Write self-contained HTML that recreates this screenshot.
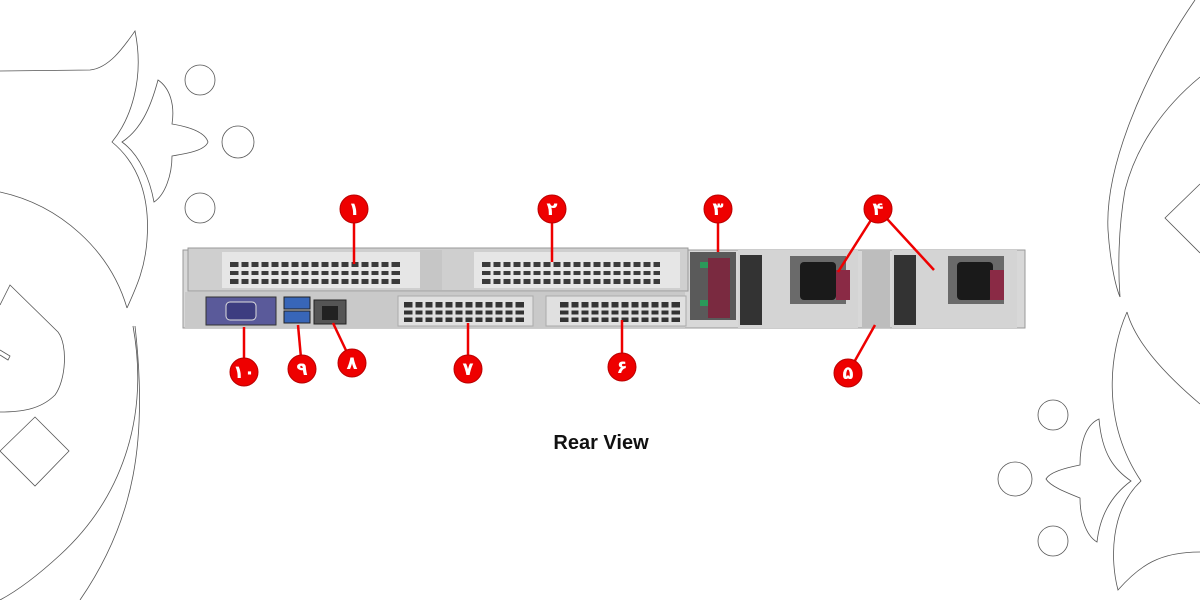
<!DOCTYPE html>
<html><head><meta charset="utf-8"><style>
html,body{margin:0;padding:0;background:#fff;}
svg{display:block}
</style></head><body>
<svg width="1200" height="600" viewBox="0 0 1200 600" xmlns="http://www.w3.org/2000/svg" font-family="Liberation Sans, sans-serif">
<g fill="none" stroke="#555" stroke-width="0.8">
<!-- left decoration -->
<path d="M0,71 L90,70 C110,68 125,45 135,31 C145,80 130,120 112,142 C140,165 150,200 147,240 C145,270 135,290 127,308"/>
<path d="M0,192 C60,205 110,250 127,308"/>
<path d="M122,142 C140,130 150,110 158,80 C170,88 175,105 172,124 C190,127 205,132 208,142 C205,150 190,153 172,156 C172,175 165,195 154,202 C150,180 140,155 122,142 Z"/>
<circle cx="200" cy="80" r="15"/><circle cx="238" cy="142" r="16"/><circle cx="200" cy="208" r="15"/>
<path d="M0,305 L10,285 L58,332 C68,345 66,380 55,395 C40,410 20,412 0,412"/>
<path d="M0,350 L10,356 L8,360 L0,355"/>
<path d="M0,451 L35,417 L69,451 L35,486 Z"/>
<path d="M133,326 C150,420 120,500 60,555 C35,578 15,592 0,600"/>
<path d="M135,326 C148,440 135,520 80,600"/>
<!-- right decoration -->
<path d="M1195,0 C1140,80 1105,170 1108,230 C1110,260 1115,285 1120,297"/>
<path d="M1200,77 C1160,110 1135,150 1125,190 C1118,230 1118,270 1120,297"/>
<path d="M1200,184 L1165,218 L1200,253"/>
<path d="M1127,312 C1135,340 1160,370 1200,404"/>
<path d="M1127,312 C1110,350 1100,420 1141,481 C1110,510 1110,560 1118,590 C1140,565 1160,552 1200,552"/>
<path d="M1131,481 C1115,470 1102,455 1099,419 C1085,425 1080,445 1080,465 C1065,468 1050,472 1046,479 C1050,486 1065,492 1080,498 C1080,515 1085,535 1097,542 C1100,515 1112,495 1131,481 Z"/>
<circle cx="1053" cy="415" r="15"/><circle cx="1015" cy="479" r="17"/><circle cx="1053" cy="541" r="15"/>
</g>

<!-- server chassis -->
<rect x="183" y="250" width="842" height="78" fill="#d8d8d8" stroke="#999"/>
<rect x="188" y="248" width="500" height="43" fill="#cfcfcf" stroke="#9a9a9a"/>
<rect x="222" y="252" width="198" height="36" fill="#e6e6e6"/>
<rect x="474" y="252" width="206" height="36" fill="#e6e6e6"/>
<rect x="420" y="250" width="22" height="40" fill="#c6c6c6"/>
<rect x="230" y="262" width="170" height="22" fill="#3a3a3a"/>
<g stroke="#e6e6e6" stroke-width="4"><path d="M230,269 H400 M230,277 H400"/></g>
<g stroke="#e6e6e6" stroke-width="3">
<path d="M240,262V285 M250,262V285 M260,262V285 M270,262V285 M280,262V285 M290,262V285 M300,262V285 M310,262V285 M320,262V285 M330,262V285 M340,262V285 M350,262V285 M360,262V285 M370,262V285 M380,262V285 M390,262V285"/>
</g>
<rect x="482" y="262" width="178" height="22" fill="#3a3a3a"/>
<g stroke="#e6e6e6" stroke-width="4"><path d="M482,269 H660 M482,277 H660"/></g>
<g stroke="#e6e6e6" stroke-width="3">
<path d="M492,262V285 M502,262V285 M512,262V285 M522,262V285 M532,262V285 M542,262V285 M552,262V285 M562,262V285 M572,262V285 M582,262V285 M592,262V285 M602,262V285 M612,262V285 M622,262V285 M632,262V285 M642,262V285 M652,262V285"/>
</g>
<!-- bottom -->
<rect x="185" y="292" width="500" height="36" fill="#c9c9c9"/>
<rect x="206" y="297" width="70" height="28" fill="#5a5a9a" stroke="#333"/>
<rect x="226" y="302" width="30" height="18" rx="4" fill="#3d3d80" stroke="#ddd"/>
<rect x="284" y="297" width="26" height="12" fill="#3866b8" stroke="#222"/>
<rect x="284" y="311" width="26" height="12" fill="#3866b8" stroke="#222"/>
<rect x="314" y="300" width="32" height="24" fill="#555" stroke="#222"/>
<rect x="322" y="306" width="16" height="14" fill="#222"/>
<rect x="398" y="296" width="135" height="30" fill="#e0e0e0" stroke="#aaa"/>
<rect x="546" y="296" width="140" height="30" fill="#e0e0e0" stroke="#aaa"/>
<rect x="404" y="302" width="120" height="20" fill="#333"/>
<rect x="560" y="302" width="120" height="20" fill="#333"/>
<g stroke="#e0e0e0" stroke-width="3"><path d="M404,309H524 M404,316H524 M560,309H680 M560,316H680"/></g>
<g stroke="#e0e0e0" stroke-width="3">
<path d="M414,302v20 M424,302v20 M434,302v20 M444,302v20 M454,302v20 M464,302v20 M474,302v20 M484,302v20 M494,302v20 M504,302v20 M514,302v20 M570,302v20 M580,302v20 M590,302v20 M600,302v20 M610,302v20 M620,302v20 M630,302v20 M640,302v20 M650,302v20 M660,302v20 M670,302v20"/>
</g>
<!-- right side -->
<rect x="690" y="252" width="46" height="68" fill="#5a5a5a"/>
<rect x="708" y="258" width="22" height="60" fill="#7a2a40"/>
<rect x="700" y="262" width="8" height="6" fill="#2a9a5a"/>
<rect x="700" y="300" width="8" height="6" fill="#2a9a5a"/>
<rect x="738" y="250" width="120" height="78" fill="#d4d4d4"/>
<rect x="740" y="255" width="22" height="70" fill="#333"/>
<rect x="790" y="256" width="56" height="48" fill="#6a6a6a"/>
<rect x="800" y="262" width="36" height="38" rx="4" fill="#1a1a1a"/>
<rect x="836" y="270" width="14" height="30" fill="#8a2a45"/>
<rect x="862" y="250" width="28" height="78" fill="#bdbdbd"/>
<rect x="892" y="250" width="125" height="78" fill="#d4d4d4"/>
<rect x="894" y="255" width="22" height="70" fill="#333"/>
<rect x="948" y="256" width="56" height="48" fill="#6a6a6a"/>
<rect x="957" y="262" width="36" height="38" rx="4" fill="#1a1a1a"/>
<rect x="990" y="270" width="14" height="30" fill="#8a2a45"/>

<!-- callouts -->
<g stroke="#e00" stroke-width="2.5" fill="none">
<path d="M354,209 L354,264"/><path d="M552,209 L552,262"/><path d="M718,209 L718,252"/>
<path d="M878,209 L838,272"/><path d="M878,209 L934,270"/>
<path d="M848,373 L875,325"/><path d="M622,367 L622,320"/><path d="M468,369 L468,323"/>
<path d="M352,363 L333,323"/><path d="M302,369 L298,325"/><path d="M244,372 L244,327"/>
</g>
<g fill="#e00" stroke="#b00">
<circle cx="354" cy="209" r="14"/><circle cx="552" cy="209" r="14"/><circle cx="718" cy="209" r="14"/>
<circle cx="878" cy="209" r="14"/><circle cx="848" cy="373" r="14"/><circle cx="622" cy="367" r="14"/>
<circle cx="468" cy="369" r="14"/><circle cx="352" cy="363" r="14"/><circle cx="302" cy="369" r="14"/>
<circle cx="244" cy="372" r="14"/>
</g>
<g fill="#fff" font-size="18" font-weight="bold" text-anchor="middle" font-family="DejaVu Sans, sans-serif">
<text x="354" y="215">۱</text><text x="552" y="215">۲</text><text x="718" y="215">۳</text>
<text x="878" y="215">۴</text><text x="848" y="379">۵</text><text x="622" y="373">۶</text>
<text x="468" y="375">۷</text><text x="352" y="369">۸</text><text x="302" y="375">۹</text>
<text x="244" y="378">۱۰</text>
</g>
<text x="601" y="449" text-anchor="middle" font-size="20" font-weight="bold" fill="#111">Rear View</text>
</svg>
</body></html>
